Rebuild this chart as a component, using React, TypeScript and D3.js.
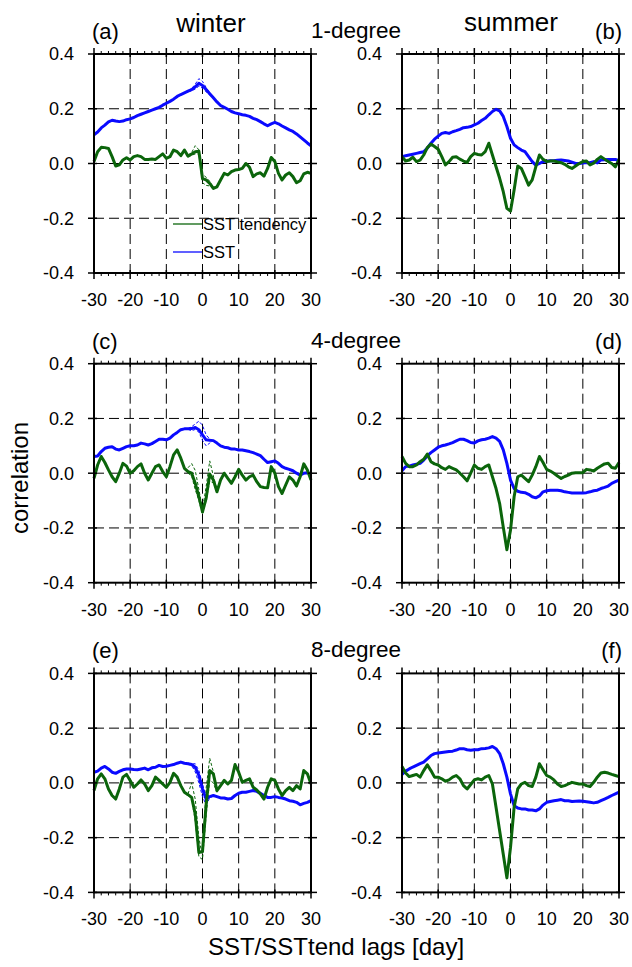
import React from "react";
import * as d3 from "d3";

// Lag axis (days)
const LAGS = d3.range(-30, 31);
const MEMBER_LAGS = d3.range(-4, 5);

const X_TICKS = [-30, -20, -10, 0, 10, 20, 30];
const Y_TICKS = [-0.4, -0.2, 0.0, 0.2, 0.4];
const X_GRID = [-20, -10, 0, 10, 20];
const Y_GRID = [-0.2, 0.0, 0.2];

const SEASONS = ["winter", "summer"];
const RESOLUTIONS = ["1-degree", "4-degree", "8-degree"];
const PANEL_LABELS = ["(a)", "(b)", "(c)", "(d)", "(e)", "(f)"];

// 1-degree, winter
const w1Sst = [0.105, 0.115, 0.13, 0.14, 0.152, 0.158, 0.155, 0.153, 0.155, 0.16, 0.163, 0.168, 0.175, 0.18, 0.185, 0.19, 0.195, 0.2, 0.205, 0.213, 0.22, 0.227, 0.235, 0.245, 0.252, 0.258, 0.264, 0.27, 0.28, 0.293, 0.285, 0.27, 0.255, 0.24, 0.225, 0.212, 0.205, 0.198, 0.19, 0.185, 0.182, 0.178, 0.176, 0.172, 0.165, 0.16, 0.153, 0.145, 0.138, 0.145, 0.15, 0.145, 0.137, 0.13, 0.123, 0.117, 0.108, 0.097, 0.086, 0.075, 0.065];
const w1Tend = [0.007, 0.043, 0.059, 0.058, 0.055, 0.025, -0.009, -0.005, 0.013, 0.021, 0.013, 0.025, 0.029, 0.025, 0.015, 0.015, 0.016, 0.015, 0.025, 0.035, 0.019, 0.025, 0.049, 0.043, 0.029, 0.049, 0.027, 0.035, 0.043, 0.045, -0.055, -0.06, -0.073, -0.091, -0.085, -0.06, -0.036, -0.042, -0.03, -0.024, -0.022, -0.018, 0.0, -0.014, -0.048, -0.038, -0.034, -0.046, -0.018, 0.022, 0.007, -0.036, -0.06, -0.042, -0.034, -0.048, -0.07, -0.063, -0.038, -0.032, -0.036];
const w1SstHi = [0.266, 0.274, 0.29, 0.31, 0.3, 0.278, 0.258, 0.24, 0.225];
const w1SstLo = [0.262, 0.266, 0.272, 0.283, 0.275, 0.262, 0.25, 0.238, 0.224];
const w1TendHi = [0.03, 0.04, 0.065, 0.05, -0.04, -0.05, -0.065, -0.088, -0.083];
const w1TendLo = [0.025, 0.03, 0.035, 0.035, -0.07, -0.08, -0.082, -0.094, -0.087];

// 1-degree, summer
const s1Sst = [0.025, 0.028, 0.031, 0.034, 0.037, 0.04, 0.043, 0.056, 0.074, 0.089, 0.1, 0.11, 0.113, 0.11, 0.116, 0.12, 0.125, 0.131, 0.132, 0.135, 0.141, 0.147, 0.157, 0.165, 0.178, 0.19, 0.198, 0.192, 0.172, 0.135, 0.092, 0.068, 0.058, 0.049, 0.043, 0.025, 0.007, -0.006, 0.0, 0.007, 0.008, 0.01, 0.01, 0.012, 0.013, 0.011, 0.009, 0.005, 0.0, 0.0, 0.002, 0.004, 0.003, 0.007, 0.002, 0.013, 0.014, 0.015, 0.015, 0.015, 0.01];
const s1Tend = [0.025, 0.009, 0.013, 0.023, 0.007, 0.012, 0.031, 0.058, 0.071, 0.062, 0.052, 0.025, -0.005, 0.007, 0.023, 0.025, 0.016, 0.009, 0.004, 0.025, 0.037, 0.033, 0.031, 0.043, 0.074, 0.031, -0.012, -0.054, -0.103, -0.164, -0.174, -0.097, -0.009, -0.018, -0.048, -0.079, -0.06, -0.012, 0.031, 0.015, 0.007, 0.009, 0.009, 0.006, 0.003, -0.003, -0.012, -0.018, -0.009, 0.0, 0.007, 0.009, -0.005, 0.001, 0.015, 0.025, 0.016, 0.007, 0.0, -0.012, 0.015];

// 4-degree, winter
const w4Sst = [0.061, 0.063, 0.079, 0.091, 0.095, 0.097, 0.088, 0.085, 0.091, 0.097, 0.1, 0.1, 0.103, 0.11, 0.107, 0.103, 0.108, 0.116, 0.124, 0.124, 0.122, 0.128, 0.14, 0.149, 0.159, 0.162, 0.162, 0.163, 0.167, 0.159, 0.14, 0.122, 0.12, 0.119, 0.11, 0.1, 0.095, 0.093, 0.088, 0.088, 0.085, 0.085, 0.082, 0.079, 0.075, 0.07, 0.064, 0.051, 0.039, 0.042, 0.045, 0.036, 0.024, 0.018, 0.014, 0.009, 0.0, -0.007, 0.0, 0.002, -0.004];
const w4Tend = [-0.019, 0.03, 0.061, 0.039, 0.012, -0.013, -0.031, 0.0, 0.036, 0.026, 0.0, 0.009, 0.024, 0.034, 0.0, -0.025, 0.0, 0.024, 0.03, 0.006, -0.013, 0.024, 0.067, 0.085, 0.055, 0.018, 0.006, 0.0, -0.037, -0.086, -0.141, -0.092, -0.003, -0.025, -0.068, -0.025, 0.0, -0.019, -0.037, -0.013, 0.014, -0.007, -0.025, -0.013, -0.007, -0.031, -0.049, -0.052, -0.053, 0.024, 0.0, -0.049, -0.074, -0.043, -0.013, -0.025, -0.047, -0.013, 0.034, 0.012, -0.025];
const w4SstHi = [0.162, 0.17, 0.18, 0.19, 0.175, 0.14, 0.125, 0.118, 0.11];
const w4SstLo = [0.16, 0.155, 0.16, 0.15, 0.12, 0.1, 0.11, 0.12, 0.11];
const w4TendHi = [0.02, 0.035, 0.01, -0.06, -0.13, -0.05, 0.045, -0.01, -0.06];
const w4TendLo = [0.0, -0.01, -0.06, -0.1, -0.15, -0.1, -0.03, -0.035, -0.07];

// 4-degree, summer
const s4Sst = [0.009, 0.024, 0.026, 0.03, 0.033, 0.036, 0.048, 0.063, 0.075, 0.085, 0.095, 0.1, 0.103, 0.107, 0.112, 0.118, 0.124, 0.124, 0.119, 0.112, 0.11, 0.118, 0.122, 0.124, 0.128, 0.134, 0.128, 0.116, 0.085, 0.036, -0.025, -0.056, -0.066, -0.07, -0.071, -0.077, -0.086, -0.09, -0.083, -0.068, -0.064, -0.062, -0.062, -0.062, -0.064, -0.068, -0.07, -0.072, -0.072, -0.072, -0.072, -0.071, -0.068, -0.064, -0.062, -0.056, -0.052, -0.047, -0.037, -0.031, -0.025];
const s4Tend = [0.061, 0.036, 0.024, 0.024, 0.03, 0.042, 0.051, 0.07, 0.042, 0.034, 0.03, 0.02, 0.014, 0.024, 0.018, 0.012, 0.0, -0.013, -0.028, 0.0, 0.03, 0.018, 0.014, 0.024, 0.03, -0.013, -0.056, -0.111, -0.197, -0.28, -0.208, -0.086, -0.013, -0.007, -0.019, -0.031, -0.007, 0.024, 0.061, 0.039, 0.014, 0.008, 0.0, -0.01, -0.019, -0.012, -0.007, 0.0, 0.002, 0.002, 0.002, 0.014, 0.012, 0.008, 0.018, 0.026, 0.034, 0.036, 0.021, 0.018, 0.039];

// 8-degree, winter
const w8Sst = [0.039, 0.043, 0.054, 0.06, 0.051, 0.039, 0.035, 0.042, 0.048, 0.051, 0.051, 0.049, 0.048, 0.051, 0.054, 0.048, 0.055, 0.057, 0.064, 0.06, 0.061, 0.064, 0.067, 0.072, 0.076, 0.072, 0.07, 0.067, 0.057, 0.027, -0.022, -0.059, -0.05, -0.046, -0.05, -0.055, -0.055, -0.059, -0.057, -0.046, -0.038, -0.034, -0.034, -0.031, -0.028, -0.031, -0.038, -0.046, -0.053, -0.053, -0.05, -0.053, -0.055, -0.059, -0.065, -0.067, -0.071, -0.08, -0.075, -0.071, -0.065];
const w8Tend = [-0.028, 0.015, 0.033, 0.015, -0.022, -0.046, -0.059, -0.022, 0.021, 0.031, 0.009, -0.016, -0.004, 0.011, -0.004, -0.028, -0.01, 0.021, 0.009, -0.004, -0.016, 0.002, 0.035, 0.021, -0.01, -0.034, -0.043, -0.053, -0.114, -0.255, -0.25, -0.08, 0.045, 0.033, -0.028, -0.01, 0.009, -0.004, 0.009, 0.067, 0.039, 0.002, 0.009, 0.015, -0.016, -0.026, -0.04, -0.059, -0.016, 0.015, 0.009, -0.022, -0.046, -0.028, -0.016, -0.028, -0.01, -0.022, 0.045, 0.033, -0.004];
const w8SstHi = [0.072, 0.069, 0.07, 0.045, -0.005, -0.05, -0.05, -0.046, -0.05];
const w8SstLo = [0.068, 0.064, 0.04, 0.0, -0.05, -0.08, -0.055, -0.047, -0.05];
const w8TendHi = [-0.04, 0.0, -0.06, -0.2, -0.27, -0.02, 0.09, 0.04, -0.02];
const w8TendLo = [-0.045, -0.06, -0.14, -0.27, -0.28, -0.12, 0.01, 0.0, -0.035];

// 8-degree, summer
const s8Sst = [0.031, 0.043, 0.051, 0.058, 0.064, 0.07, 0.076, 0.088, 0.1, 0.107, 0.109, 0.111, 0.113, 0.115, 0.116, 0.12, 0.125, 0.125, 0.121, 0.119, 0.121, 0.121, 0.125, 0.126, 0.128, 0.133, 0.125, 0.107, 0.07, 0.021, -0.04, -0.083, -0.092, -0.095, -0.095, -0.099, -0.099, -0.102, -0.095, -0.081, -0.071, -0.068, -0.065, -0.063, -0.061, -0.065, -0.065, -0.068, -0.067, -0.066, -0.067, -0.069, -0.071, -0.073, -0.071, -0.065, -0.059, -0.053, -0.046, -0.04, -0.034];
const s8Tend = [0.06, 0.036, 0.023, 0.027, 0.031, 0.021, 0.045, 0.066, 0.045, 0.021, 0.021, 0.015, 0.006, 0.011, 0.021, 0.027, 0.015, -0.01, -0.022, -0.006, 0.011, 0.015, 0.011, 0.021, 0.027, -0.004, -0.089, -0.175, -0.261, -0.347, -0.236, -0.089, -0.022, -0.004, 0.002, -0.01, -0.013, 0.021, 0.07, 0.048, 0.027, 0.021, 0.011, -0.004, -0.013, -0.01, -0.004, 0.002, -0.001, -0.004, -0.004, -0.01, -0.013, 0.002, 0.021, 0.036, 0.039, 0.036, 0.031, 0.027, 0.023];

const BLUE = "#0a0aff";
const GREEN = "#0b650b";
const FONT = "'Liberation Sans', Arial, Helvetica, sans-serif";

const W = 632;
const H = 967;
const COL_LEFT = [94, 402];
const ROW_TOP = [54, 363.7, 673.4];
const PW = 217;
const PH = 219;

type Panel = {
  sst: number[];
  tend: number[];
  members?: { sst: number[][]; tend: number[][] };
};

const PANELS: Panel[] = [
  { sst: w1Sst, tend: w1Tend, members: { sst: [w1SstHi, w1SstLo], tend: [w1TendHi, w1TendLo] } },
  { sst: s1Sst, tend: s1Tend },
  { sst: w4Sst, tend: w4Tend, members: { sst: [w4SstHi, w4SstLo], tend: [w4TendHi, w4TendLo] } },
  { sst: s4Sst, tend: s4Tend },
  { sst: w8Sst, tend: w8Tend, members: { sst: [w8SstHi, w8SstLo], tend: [w8TendHi, w8TendLo] } },
  { sst: s8Sst, tend: s8Tend },
];

function PanelView({ panel, index }: { panel: Panel; index: number }) {
  const col = index % 2;
  const row = Math.floor(index / 2);
  const left = COL_LEFT[col];
  const top = ROW_TOP[row];
  const x = d3.scaleLinear().domain([-30, 30]).range([left, left + PW]);
  const y = d3.scaleLinear().domain([-0.4, 0.4]).range([top + PH, top]);
  const line = d3
    .line<[number, number]>()
    .x((d) => x(d[0]))
    .y((d) => y(d[1]));
  const path = (lags: number[], vals: number[]) =>
    line(lags.map((l, i) => [l, vals[i]] as [number, number])) || "";
  const minor = d3.range(-30, 31, 2).filter((v) => v % 10 !== 0);
  const bottom = top + PH;
  const right = left + PW;

  return (
    <g>
      {/* dashed grid */}
      {X_GRID.map((v) => (
        <line key={"gx" + v} x1={x(v)} x2={x(v)} y1={top} y2={bottom} stroke="#000" strokeWidth={1} strokeDasharray="10 5" />
      ))}
      {Y_GRID.map((v) => (
        <line key={"gy" + v} x1={left} x2={right} y1={y(v)} y2={y(v)} stroke="#000" strokeWidth={1} strokeDasharray="10 5" />
      ))}

      {/* ensemble members */}
      {panel.members &&
        panel.members.sst.map((m, i) => (
          <path key={"ms" + i} d={path(MEMBER_LAGS, m)} fill="none" stroke={BLUE} strokeWidth={1} strokeDasharray="3 2" />
        ))}
      {panel.members &&
        panel.members.tend.map((m, i) => (
          <path key={"mt" + i} d={path(MEMBER_LAGS, m)} fill="none" stroke={GREEN} strokeWidth={1} strokeDasharray="3 2" />
        ))}

      {/* main series */}
      <path d={path(LAGS, panel.sst)} fill="none" stroke={BLUE} strokeWidth={3} strokeLinejoin="round" />
      <path d={path(LAGS, panel.tend)} fill="none" stroke={GREEN} strokeWidth={3} strokeLinejoin="round" />

      {/* frame */}
      <rect x={left} y={top} width={PW} height={PH} fill="none" stroke="#000" strokeWidth={2} />

      {/* x ticks */}
      {X_TICKS.map((v) => (
        <g key={"xt" + v}>
          <line x1={x(v)} x2={x(v)} y1={bottom - 3} y2={bottom + 6} stroke="#000" strokeWidth={1.5} />
          <line x1={x(v)} x2={x(v)} y1={top + 3} y2={top - 6} stroke="#000" strokeWidth={1.5} />
          <text x={x(v)} y={bottom + 33} textAnchor="middle" fontSize={18} fontFamily={FONT} fill="#000">
            {v}
          </text>
        </g>
      ))}
      {minor.map((v) => (
        <g key={"mx" + v}>
          <line x1={x(v)} x2={x(v)} y1={bottom} y2={bottom + 3} stroke="#000" strokeWidth={1} />
          <line x1={x(v)} x2={x(v)} y1={top} y2={top - 3} stroke="#000" strokeWidth={1} />
        </g>
      ))}

      {/* y ticks */}
      {Y_TICKS.map((v) => (
        <g key={"yt" + v}>
          <line x1={left - 6} x2={left + 3} y1={y(v)} y2={y(v)} stroke="#000" strokeWidth={1.5} />
          <line x1={right - 3} x2={right + 6} y1={y(v)} y2={y(v)} stroke="#000" strokeWidth={1.5} />
          <text x={left - 20} y={y(v)} dy="0.36em" textAnchor="end" fontSize={18} fontFamily={FONT} fill="#000">
            {d3.format(".1f")(v).replace("−", "-")}
          </text>
        </g>
      ))}

      {/* panel label */}
      {col === 0 ? (
        <text x={left - 2} y={top - 15} fontSize={22} fontFamily={FONT} fill="#000">
          {PANEL_LABELS[index]}
        </text>
      ) : (
        <text x={right + 3} y={top - 15} textAnchor="end" fontSize={22} fontFamily={FONT} fill="#000">
          {PANEL_LABELS[index]}
        </text>
      )}
    </g>
  );
}

export default function App() {
  return (
    <svg
      width={W}
      height={H}
      viewBox={`0 0 ${W} ${H}`}
      style={{ position: "absolute", left: 0, top: 0, background: "#fff" }}
    >
      <rect x={0} y={0} width={W} height={H} fill="#fff" />
      {PANELS.map((p, i) => (
        <PanelView key={i} panel={p} index={i} />
      ))}

      {/* season headings */}
      <text x={211} y={32} textAnchor="middle" fontSize={26} fontFamily={FONT} fill="#000">
        {SEASONS[0]}
      </text>
      <text x={511} y={31} textAnchor="middle" fontSize={26} fontFamily={FONT} fill="#000">
        {SEASONS[1]}
      </text>

      {/* resolution headings */}
      {RESOLUTIONS.map((r, i) => (
        <text key={r} x={356} y={ROW_TOP[i] - 16} textAnchor="middle" fontSize={22.5} fontFamily={FONT} fill="#000">
          {r}
        </text>
      ))}

      {/* legend */}
      <line x1={173} x2={202} y1={224} y2={224} stroke={GREEN} strokeWidth={1.3} />
      <text x={203} y={229.5} fontSize={16.5} fontFamily={FONT} fill="#000">
        SST tendency
      </text>
      <line x1={173} x2={202} y1={252} y2={252} stroke={BLUE} strokeWidth={1.3} />
      <text x={203} y={257.5} fontSize={16.5} fontFamily={FONT} fill="#000">
        SST
      </text>

      {/* axis titles */}
      <text
        transform="translate(28,478) rotate(-90)"
        textAnchor="middle"
        fontSize={24}
        fontFamily={FONT}
        fill="#000"
      >
        correlation
      </text>
      <text x={336} y={955} textAnchor="middle" fontSize={24} fontFamily={FONT} fill="#000">
        SST/SSTtend lags [day]
      </text>
    </svg>
  );
}
